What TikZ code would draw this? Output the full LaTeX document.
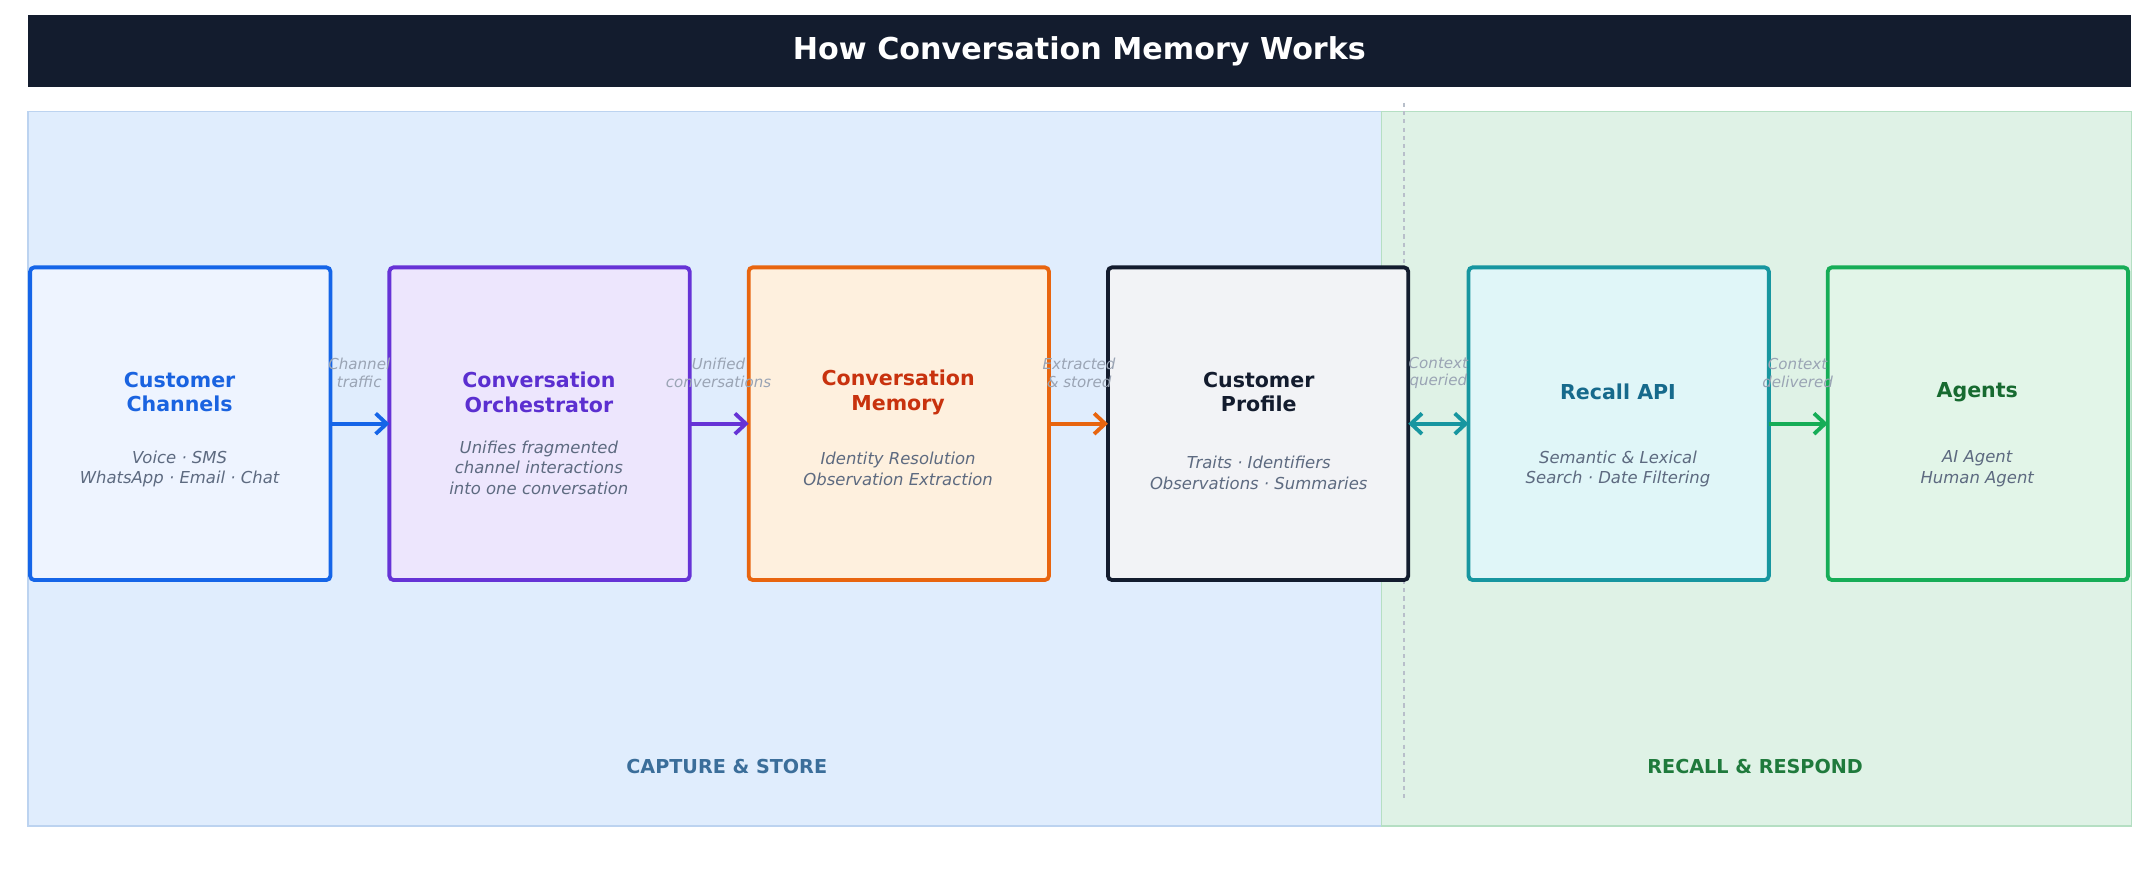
\documentclass[tikz,border=0pt]{standalone}
\usepackage{fontspec}
\setmainfont{DejaVu Sans}
\usetikzlibrary{arrows.meta}
\definecolor{bar}{HTML}{131C2E}
\definecolor{lp}{HTML}{E0EDFD}\definecolor{lpb}{HTML}{BCD3F0}
\definecolor{rp}{HTML}{DFF2E6}\definecolor{rpb}{HTML}{B5DFC3}
\definecolor{sub}{HTML}{5D6A80}\definecolor{lab}{HTML}{9AA4B4}
\definecolor{cB}{HTML}{1565E8}\definecolor{cBf}{HTML}{EEF4FF}\definecolor{cBt}{HTML}{1A63E0}
\definecolor{cO}{HTML}{6633D6}\definecolor{cOf}{HTML}{EDE6FD}\definecolor{cOt}{HTML}{5B2FD0}
\definecolor{cM}{HTML}{E8650F}\definecolor{cMf}{HTML}{FEF0DE}\definecolor{cMt}{HTML}{C8320E}
\definecolor{cP}{HTML}{131C2E}\definecolor{cPf}{HTML}{F2F3F6}
\definecolor{cR}{HTML}{1796A0}\definecolor{cRf}{HTML}{E0F6F8}\definecolor{cRt}{HTML}{166A8C}
\definecolor{cA}{HTML}{16AD57}\definecolor{cAf}{HTML}{E2F5E8}\definecolor{cAt}{HTML}{176A30}
\definecolor{secL}{HTML}{3B6E9A}\definecolor{secR}{HTML}{1F7A3C}
\begin{document}
\begin{tikzpicture}[x=1pt,y=-1pt,
  box/.style={draw,line width=2.8pt,rounded corners=3pt,minimum width=219pt,minimum height=228pt,anchor=north west,inner sep=0pt,outer sep=0pt},
  ttl/.style={font=\bfseries\fontsize{15}{18}\selectfont,align=center},
  sb/.style={text=sub,font=\itshape\fontsize{12}{15}\selectfont,align=center},
  al/.style={text=lab,font=\itshape\fontsize{11}{13}\selectfont,align=center},
  tip/.style={-{Straight Barb[length=8pt,width=15pt,line width=2.8pt]}},
  ar/.style={line width=2.8pt,tip},
  sec/.style={font=\bfseries\fontsize{14}{16}\selectfont}]
\useasboundingbox (0,0) rectangle (1568,653);
\fill[white] (0,0) rectangle (1568,653);
\node[fill=bar,minimum width=1534pt,minimum height=52pt,anchor=north west,inner sep=0pt,text=white,font=\bfseries\fontsize{22}{26}\selectfont] (title) at (20,11) {How Conversation Memory Works};
\node[fill=lp,draw=lpb,line width=1pt,minimum width=987pt,minimum height=521pt,anchor=north west,inner sep=0pt] (lpanel) at (20,81) {};
\node[fill=rp,draw=rpb,line width=1pt,minimum width=547pt,minimum height=521pt,anchor=north west,inner sep=0pt] (rpanel) at (1007,81) {};
\coordinate (d1) at (1024,75); \coordinate (d2) at (1024,582);
\draw[lab!70,dashed,line width=1pt] (d1) -- (d2);
\node[box,draw=cB,fill=cBf] (b1) at (22,195) {};
\node[box,draw=cO,fill=cOf] (b2) at (284,195) {};
\node[box,draw=cM,fill=cMf] (b3) at (546,195) {};
\node[box,draw=cP,fill=cPf] (b4) at (808,195) {};
\node[box,draw=cR,fill=cRf] (b5) at (1071,195) {};
\node[box,draw=cA,fill=cAf] (b6) at (1333,195) {};
\node[ttl,text=cBt] (t1) at (131,286) {Customer\\Channels};
\node[sb] (s1) at (131,342) {Voice · SMS\\WhatsApp · Email · Chat};
\node[ttl,text=cOt] (t2) at (393,286) {Conversation\\Orchestrator};
\node[sb] (s2) at (393,341) {Unifies fragmented\\channel interactions\\into one conversation};
\node[ttl,text=cMt] (t3) at (655,286) {Conversation\\Memory};
\node[sb] (s3) at (655,342) {Identity Resolution\\Observation Extraction};
\node[ttl,text=cP] (t4) at (918,286) {Customer\\Profile};
\node[sb] (s4) at (918,345) {Traits · Identifiers\\Observations · Summaries};
\node[ttl,text=cRt] (t5) at (1180,286) {Recall API};
\node[sb] (s5) at (1180,342) {Semantic \& Lexical\\Search · Date Filtering};
\node[ttl,text=cAt] (t6) at (1442,286) {Agents};
\node[sb] (s6) at (1442,342) {AI Agent\\Human Agent};
\draw[ar,cB] (b1.east) -- (b2.west);
\draw[ar,cO] (b2.east) -- (b3.west);
\draw[ar,cM] (b3.east) -- (b4.west);
\draw[line width=2.8pt,cR,{Straight Barb[length=8pt,width=15pt,line width=2.8pt]}-{Straight Barb[length=8pt,width=15pt,line width=2.8pt]}] (b4.east) -- (b5.west);
\draw[ar,cA] (b5.east) -- (b6.west);
\node[al] (l1) at (262,272) {Channel\\traffic};
\node[al] (l2) at (524,272) {Unified\\conversations};
\node[al] (l3) at (787,272) {Extracted\\\& stored};
\node[al] (l4) at (1049,272) {Context\\queried};
\node[al] (l5) at (1311,272) {Context\\delivered};
\node[sec,text=secL] (c1) at (530,559) {CAPTURE \& STORE};
\node[sec,text=secR] (c2) at (1280,559) {RECALL \& RESPOND};
\end{tikzpicture}
\end{document}
